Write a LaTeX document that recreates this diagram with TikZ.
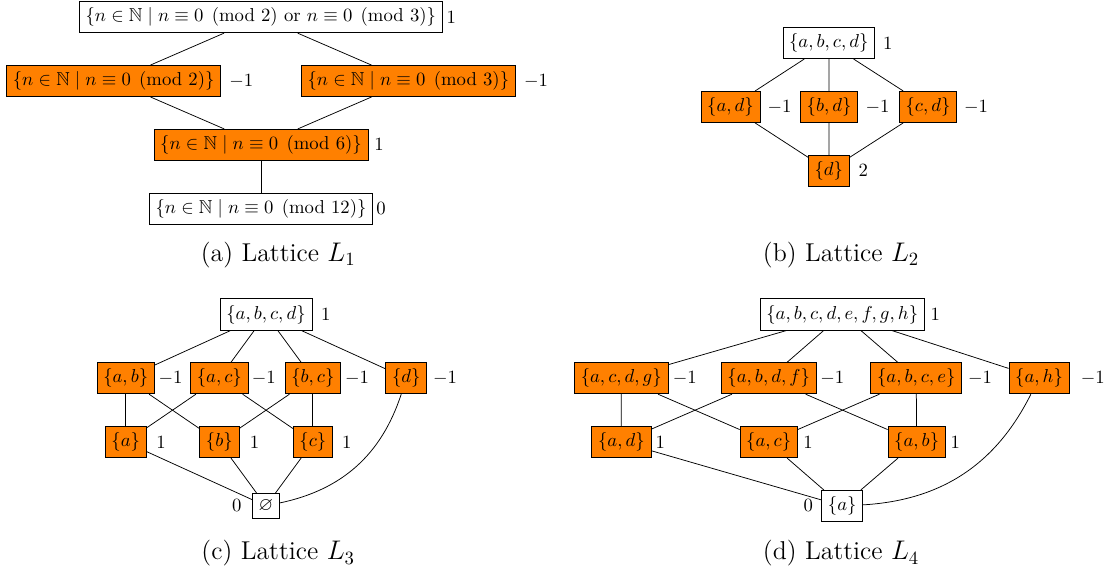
\documentclass[tikz,border=0pt]{standalone}
\usepackage{amsmath, amssymb}
\usepackage{xcolor}
\usepackage{tikz}

\begin{document}
\begin{tikzpicture}[setbox/.style={draw}, orbox/.style={draw,fill=orange},
    capt/.style={anchor=base,font=\fontsize{13.8}{16}\selectfont}]
      \useasboundingbox (0,0) rectangle (20.883,-10.733);
        % Lattice L1
      \node[setbox] (A1) at (4.902,-0.323) {$\{n\in\mathbb{N}\mid n\equiv 0 \pmod{2} \text{ or } n\equiv 0 \pmod{3}\}$};
      \node[orbox] (B1) at (2.137,-1.523) {$\{n\in\mathbb{N}\mid n\equiv 0 \pmod{2}\}$};
      \node[orbox] (C1) at (7.675,-1.523) {$\{n\in\mathbb{N}\mid n\equiv 0 \pmod{3}\}$};
      \node[orbox] (D1) at (4.906,-2.723) {$\{n\in\mathbb{N}\mid n\equiv 0 \pmod{6}\}$};
      \node[setbox] (E1) at (4.906,-3.923) {$\{n\in\mathbb{N}\mid n\equiv 0 \pmod{12}\}$};
     \node (lA1) at (8.483,-0.323) {$1$};
     \node (lB1) at (4.534,-1.523) {$-1$};
     \node (lC1) at (10.075,-1.523) {$-1$};
     \node (lD1) at (7.124,-2.723) {$1$};
     \node (lE1) at (7.162,-3.923) {$0$};
      \draw (A1) -- (B1);
      \draw (A1) -- (C1);
      \draw (B1) -- (D1);
      \draw (C1) -- (D1);
      \draw (D1) -- (E1);
     \node[capt] (capA) at (5.23,-4.906) {(a) Lattice $L_1$};
        % Lattice L2
      \node[setbox] (A2) at (15.579,-0.81) {$\{a,b,c,d\}$};
      \node[orbox] (B2) at (13.731,-2.01) {$\{a,d\}$};
      \node[orbox] (C2) at (15.583,-2.01) {$\{b,d\}$};
      \node[orbox] (D2) at (17.444,-2.01) {$\{c,d\}$};
      \node[orbox] (E2) at (15.579,-3.21) {$\{d\}$};
     \node (lA2) at (16.686,-0.81) {$1$};
     \node (lB2) at (14.652,-2.01) {$-1$};
     \node (lC2) at (16.494,-2.01) {$-1$};
     \node (lD2) at (18.346,-2.01) {$-1$};
     \node (lE2) at (16.227,-3.21) {$2$};
      \draw (A2) -- (B2);
      \draw (A2) -- (C2);
      \draw (A2) -- (D2);
      \draw (B2) -- (E2);
      \draw (C2) -- (E2);
      \draw (D2) -- (E2);
     \node[capt] (capB) at (15.81,-4.906) {(b) Lattice $L_2$};
        % Lattice L3
      \node[setbox] (A3) at (5.0,-5.91) {$\{a,b,c,d\}$};
      \node[orbox] (B3) at (2.363,-7.11) {$\{a,b\}$};
      \node[orbox] (C3) at (4.122,-7.11) {$\{a,c\}$};
      \node[orbox] (D3) at (5.88,-7.11) {$\{b,c\}$};
      \node[orbox] (E3) at (7.637,-7.11) {$\{d\}$};
      \node[orbox] (F3) at (2.363,-8.31) {$\{a\}$};
      \node[orbox] (G3) at (4.122,-8.31) {$\{b\}$};
      \node[orbox] (H3) at (5.88,-8.31) {$\{c\}$};
      \node[setbox] (I3) at (5.0,-9.51) {$\varnothing$};
     \node (lA3) at (6.122,-5.91) {$1$};
     \node (lB3) at (3.205,-7.11) {$-1$};
     \node (lC3) at (4.957,-7.11) {$-1$};
     \node (lD3) at (6.711,-7.11) {$-1$};
     \node (lE3) at (8.365,-7.11) {$-1$};
     \node (lF3) at (3.026,-8.31) {$1$};
     \node (lG3) at (4.784,-8.31) {$1$};
     \node (lH3) at (6.517,-8.31) {$1$};
     \node (lI3) at (4.449,-9.51) {$0$};
      \draw (A3) -- (B3);
      \draw (A3) -- (C3);
      \draw (A3) -- (D3);
      \draw (A3) -- (E3);
      \draw (B3) -- (F3);
      \draw (B3) -- (G3);
      \draw (C3) -- (F3);
      \draw (C3) -- (H3);
      \draw (D3) -- (G3);
      \draw (D3) -- (H3);
      \draw (F3) -- (I3);
      \draw (G3) -- (I3);
      \draw (H3) -- (I3);
      \draw (E3) to[bend left=30] (I3);
     \node[capt] (capC) at (5.23,-10.526) {(c) Lattice $L_3$};
        % Lattice L4
      \node[setbox] (A4) at (15.831,-5.91) {$\{a,b,c,d,e,f,g,h\}$};
      \node[orbox] (B4) at (11.677,-7.11) {$\{a,c,d,g\}$};
      \node[orbox] (C4) at (14.449,-7.11) {$\{a,b,d,f\}$};
      \node[orbox] (D4) at (17.222,-7.11) {$\{a,b,c,e\}$};
      \node[orbox] (E4) at (19.53,-7.11) {$\{a,h\}$};
      \node[orbox] (F4) at (11.68,-8.31) {$\{a,d\}$};
      \node[orbox] (G4) at (14.449,-8.31) {$\{a,c\}$};
      \node[orbox] (H4) at (17.23,-8.31) {$\{a,b\}$};
      \node[setbox] (I4) at (15.831,-9.51) {$\{a\}$};
     \node (lA4) at (17.581,-5.91) {$1$};
     \node (lB4) at (12.872,-7.11) {$-1$};
     \node (lC4) at (15.643,-7.11) {$-1$};
     \node (lD4) at (18.421,-7.11) {$-1$};
     \node (lE4) at (20.539,-7.11) {$-1$};
     \node (lF4) at (12.412,-8.31) {$1$};
     \node (lG4) at (15.188,-8.31) {$1$};
     \node (lH4) at (17.957,-8.31) {$1$};
     \node (lI4) at (15.194,-9.51) {$0$};
      \draw (A4) -- (B4);
      \draw (A4) -- (C4);
      \draw (A4) -- (D4);
      \draw (A4) -- (E4);
      \draw (B4) -- (F4);
      \draw (B4) -- (G4);
      \draw (C4) -- (F4);
      \draw (C4) -- (H4);
      \draw (D4) -- (G4);
      \draw (D4) -- (H4);
      \draw (F4) -- (I4);
      \draw (G4) -- (I4);
      \draw (H4) -- (I4);
      \draw (E4) to[bend left=30] (I4);
     \node[capt] (capD) at (15.81,-10.526) {(d) Lattice $L_4$};
    \end{tikzpicture}
\end{document}
